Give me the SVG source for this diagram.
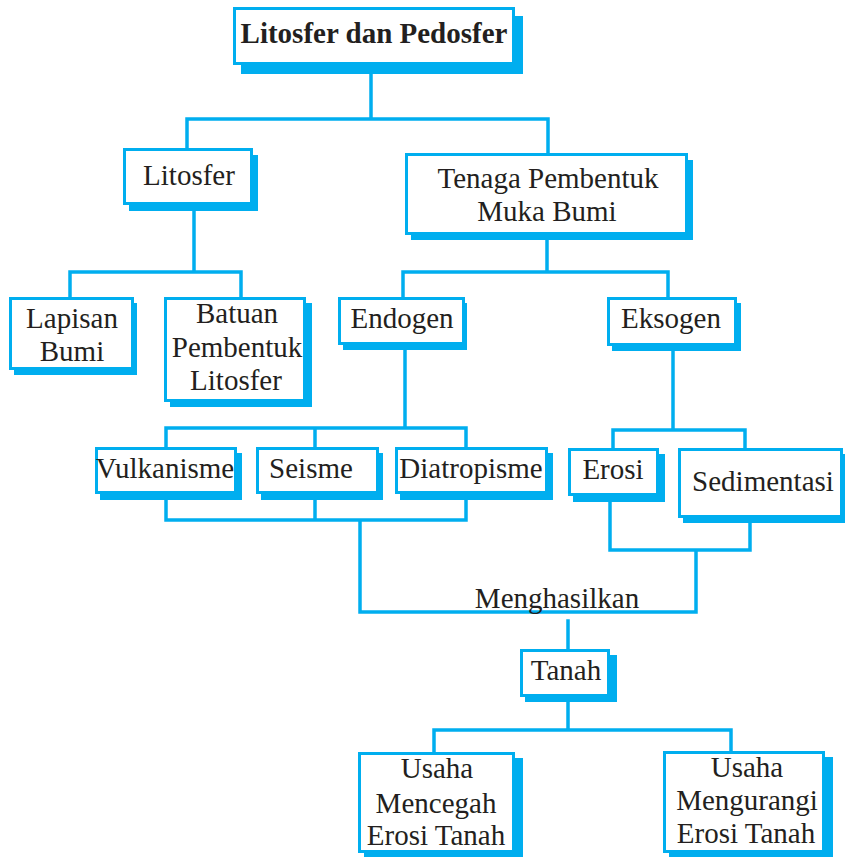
<svg xmlns="http://www.w3.org/2000/svg" width="845" height="857" viewBox="0 0 845 857">
<style>
.sh{fill:#00aeef}
.bx{fill:#fff;stroke:#00aeef;stroke-width:3}
.t{font-family:"Liberation Serif","Times New Roman",serif;font-size:29px;fill:#231f20;text-anchor:middle}
.b{font-weight:bold}
.ln{fill:none;stroke:#00aeef;stroke-width:3.5;stroke-linecap:square;stroke-linejoin:miter}
</style>
<rect width="845" height="857" fill="#fff"/>
<g id="connectors">
<path class="ln" d="M371 65V119M187 148V119H548V153"/>
<path class="ln" d="M194 205V272M70 297V272H241V297"/>
<path class="ln" d="M547 235V272M403 297V272H668V297"/>
<path class="ln" d="M405 345V428M166 447V428H466V447M315 428V447"/>
<path class="ln" d="M673 346V430M613 448V430H745V448"/>
<path class="ln" d="M166 494V520H466V494M315 494V520M360 520V612H696V550M610 496V550H750V518"/>
<path class="ln" d="M568 621V649M568 697V730M434 752V730H731V751"/>
</g>
<g id="n-title"><rect class="sh" x="241" y="16" width="282" height="58"/><rect class="bx" x="234.5" y="8.5" width="279" height="55"/><text class="t b" x="374" y="43">Litosfer dan Pedosfer</text></g>
<g id="n-litosfer"><rect class="sh" x="129" y="155" width="129" height="56"/><rect class="bx" x="124.5" y="149.5" width="127" height="54"/><text class="t" x="189" y="185">Litosfer</text></g>
<g id="n-tenaga"><rect class="sh" x="411" y="160" width="282" height="80"/><rect class="bx" x="406.5" y="154.5" width="280" height="79"/><text class="t" x="548" y="188">Tenaga Pembentuk</text><text class="t" x="547" y="221">Muka Bumi</text></g>
<g id="n-lapisan"><rect class="sh" x="14" y="303" width="123" height="72"/><rect class="bx" x="10.5" y="298.5" width="122" height="70"/><text class="t" x="72" y="328">Lapisan</text><text class="t" x="72" y="361">Bumi</text></g>
<g id="n-batuan"><rect class="sh" x="170" y="303" width="142" height="104"/><rect class="bx" x="165.5" y="298.5" width="139" height="102"/><text class="t" x="237" y="323">Batuan</text><text class="t" x="237" y="357">Pembentuk</text><text class="t" x="236" y="390">Litosfer</text></g>
<g id="n-endogen"><rect class="sh" x="343" y="303" width="124" height="47"/><rect class="bx" x="339.5" y="298.5" width="124" height="45"/><text class="t" x="402" y="328">Endogen</text></g>
<g id="n-eksogen"><rect class="sh" x="612" y="303" width="129" height="48"/><rect class="bx" x="608.5" y="298.5" width="127" height="46"/><text class="t" x="671" y="328">Eksogen</text></g>
<g id="n-vulkanisme"><rect class="sh" x="100" y="453" width="142" height="47"/><rect class="bx" x="96.5" y="448.5" width="139" height="44"/><text class="t" x="165" y="478">Vulkanisme</text></g>
<g id="n-seisme"><rect class="sh" x="261" y="453" width="122" height="47"/><rect class="bx" x="257.5" y="448.5" width="120" height="44"/><text class="t" x="311" y="478">Seisme</text></g>
<g id="n-diatropisme"><rect class="sh" x="400" y="453" width="153" height="47"/><rect class="bx" x="396.5" y="448.5" width="150" height="44"/><text class="t" x="471" y="478">Diatropisme</text></g>
<g id="n-erosi"><rect class="sh" x="573" y="454" width="92" height="48"/><rect class="bx" x="569.5" y="449.5" width="88" height="45"/><text class="t" x="613" y="479">Erosi</text></g>
<g id="n-sedimentasi"><rect class="sh" x="683" y="454" width="165" height="69"/><rect class="bx" x="679.5" y="449.5" width="162" height="67"/><text class="t" x="763" y="491">Sedimentasi</text></g>
<g id="label-menghasilkan"><text class="t" x="557" y="608">Menghasilkan</text></g>
<g id="n-tanah"><rect class="sh" x="525" y="655" width="92" height="47"/><rect class="bx" x="521.5" y="650.5" width="87" height="45"/><text class="t" x="566" y="680">Tanah</text></g>
<g id="n-mencegah"><rect class="sh" x="364" y="758" width="159" height="104"/><rect class="bx" x="359.5" y="753.5" width="154" height="98"/><text class="t" x="437" y="778">Usaha</text><text class="t" x="436" y="813">Mencegah</text><text class="t" x="436" y="845">Erosi Tanah</text></g>
<g id="n-mengurangi"><rect class="sh" x="669" y="757" width="164" height="105"/><rect class="bx" x="664.5" y="752.5" width="159" height="99"/><text class="t" x="747" y="777">Usaha</text><text class="t" x="747" y="810">Mengurangi</text><text class="t" x="746" y="843">Erosi Tanah</text></g>
</svg>
